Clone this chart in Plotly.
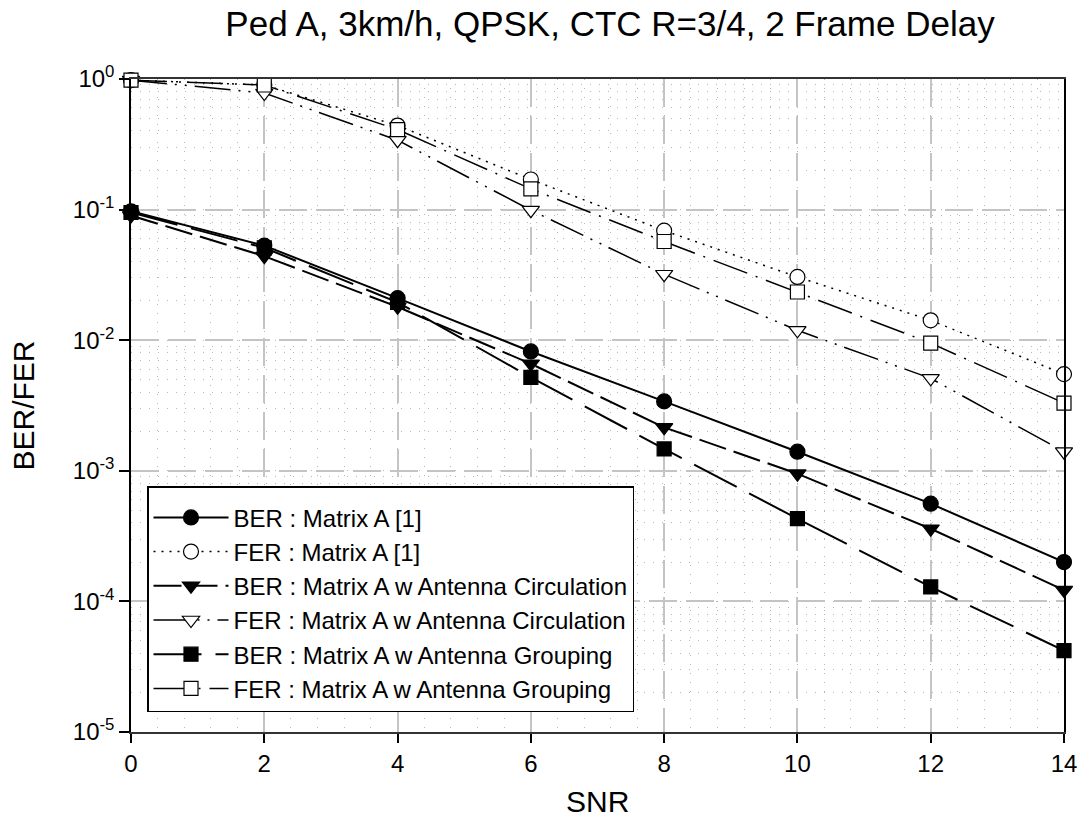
import plotly.graph_objects as go

snr = [0, 2, 4, 6, 8, 10, 12, 14]
ber_a = [0.097, 0.053, 0.021, 0.0082, 0.0034, 0.0014, 0.00056, 0.0002]
fer_a = [0.98, 0.90, 0.44, 0.17, 0.069, 0.0305, 0.0142, 0.0055]
ber_circ = [0.090, 0.044, 0.018, 0.0066, 0.00215, 0.00095, 0.00036, 0.000122]
fer_circ = [0.98, 0.78, 0.34, 0.099, 0.032, 0.0119, 0.0051, 0.0014]
ber_group = [0.095, 0.051, 0.0195, 0.0052, 0.00147, 0.00043, 0.000129, 0.000042]
fer_group = [0.98, 0.90, 0.41, 0.144, 0.057, 0.0234, 0.0095, 0.0033]

names = [
    "BER : Matrix A [1]",
    "FER : Matrix A [1]",
    "BER : Matrix A w Antenna Circulation",
    "FER : Matrix A w Antenna Circulation",
    "BER : Matrix A w Antenna Grouping",
    "FER : Matrix A w Antenna Grouping",
]
yt_vals = [1, 0.1, 0.01, 0.001, 0.0001, 0.00001]
yt_text = ["10<sup>0</sup>", "10<sup>-1</sup>", "10<sup>-2</sup>", "10<sup>-3</sup>",
           "10<sup>-4</sup>", "10<sup>-5</sup>"]

series = [ber_a, fer_a, ber_circ, fer_circ, ber_group, fer_group]
styles = [
    dict(symbol="circle", fill="black", dash="solid", size=15, lw=2),
    dict(symbol="circle", fill="white", dash="2px,6px", size=15, lw=1.5),
    dict(symbol="triangle-down", fill="black", dash="28px,8px", size=15, lw=2),
    dict(symbol="triangle-down", fill="white", dash="36px,8px,2px,8px,2px,8px", size=15, lw=1.5),
    dict(symbol="square", fill="black", dash="48px,14px", size=14, lw=2),
    dict(symbol="square", fill="white", dash="36px,9px,2px,9px", size=14, lw=1.5),
]

fig = go.Figure()
for name, vals, st in zip(names, series, styles):
    fig.add_trace(go.Scatter(
        x=snr, y=vals, name=name, mode="lines+markers",
        line=dict(color="black", width=st["lw"], dash=st["dash"]),
        marker=dict(symbol=st["symbol"], size=st["size"], color=st["fill"],
                    line=dict(color="black", width=1.2)),
        cliponaxis=False,
    ))

font = "Liberation Sans, Arial, sans-serif"
W, H = 1082, 840
L, R, T, B = 131, 18, 79, 108
PW, PH = W - L - R, H - T - B
fig.update_layout(
    width=W, height=H,
    margin=dict(l=L, r=R, t=T, b=B, autoexpand=False),
    paper_bgcolor="white", plot_bgcolor="white",
    font=dict(family=font, color="black", size=24),
    title=dict(text="Ped A, 3km/h, QPSK, CTC R=3/4, 2 Frame Delay",
               x=(610 - L) / PW, xref="paper", xanchor="center",
               y=1 - 24 / H, yref="container", yanchor="middle",
               font=dict(size=35)),
    showlegend=True,
    legend=dict(x=(147 - L) / PW, y=(H - B - 486) / PH, xanchor="left", yanchor="top",
                bgcolor="white", bordercolor="black", borderwidth=1.5,
                font=dict(size=24), itemwidth=75, tracegroupgap=0,
                title=dict(text=" ", font=dict(size=6))),
    annotations=[
        dict(text="BER/FER", textangle=-90, xref="paper", yref="paper",
             x=-(L - 23) / PW, y=0.5, xanchor="center", yanchor="middle",
             showarrow=False, font=dict(size=30)),
        dict(text="SNR", xref="paper", yref="paper",
             x=0.5, y=-(801 - (H - B)) / PH, xanchor="center", yanchor="middle",
             showarrow=False, font=dict(size=30)),
    ],
)
fig.update_xaxes(
    range=[0, 14], tickvals=snr, ticks="outside", ticklen=9, tickcolor="black",
    tickwidth=1.5, ticklabeloverflow="allow", automargin=False,
    showline=True, linecolor="#333333", linewidth=2, mirror=True,
    showgrid=True, gridcolor="#c4c4c4", gridwidth=2, griddash="28px,9px",
    minor=dict(dtick=0.4, tick0=0, showgrid=True, gridcolor="#b8b8b8",
               gridwidth=1, griddash="1px,8px", ticks=""),
    zeroline=False,
    tickfont=dict(size=24),
)
fig.update_yaxes(
    type="log", range=[-5, 0], tickvals=yt_vals, ticktext=yt_text,
    ticks="outside", ticklen=10, tickcolor="black", tickwidth=1.5, automargin=False,
    showline=True, linecolor="black", linewidth=1.5, mirror=True,
    showgrid=True, gridcolor="#c4c4c4", gridwidth=2, griddash="28px,9px",
    minor=dict(dtick="D1", showgrid=True, gridcolor="#b8b8b8",
               gridwidth=1, griddash="1px,8px", ticks=""),
    zeroline=False,
    tickfont=dict(size=24),
)
fig.write_html(
    "out.html",
    config={"displayModeBar": False},
    post_script="document.body.style.margin='0';document.body.style.overflow='hidden';",
)
